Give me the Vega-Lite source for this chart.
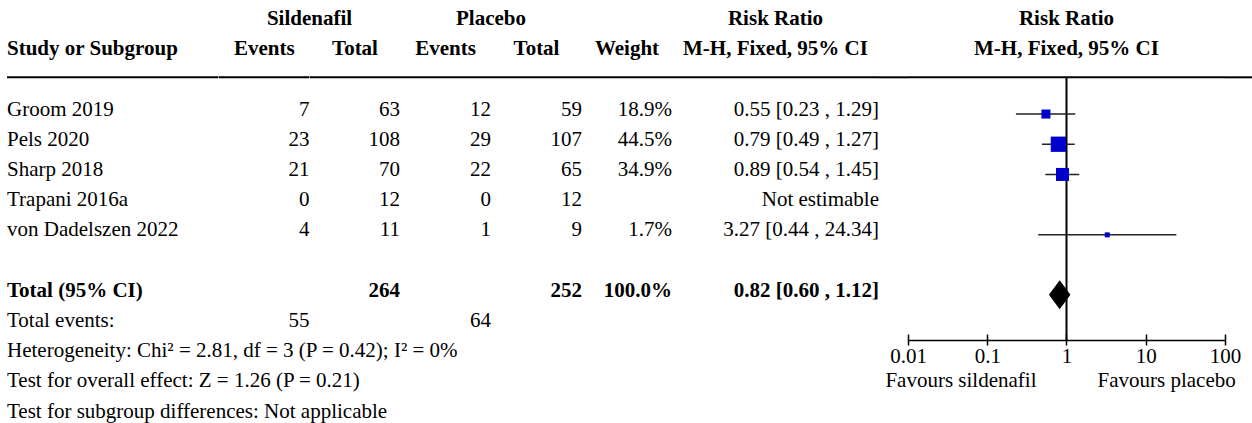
{
  "$schema": "https://vega.github.io/schema/vega-lite/v6.json",
  "padding": {"left": 6, "top": 0, "right": 0, "bottom": 0},
  "spacing": 0,
  "bounds": "flush",
  "datasets": {
    "studies": [
      {"study": "Groom 2019", "se": 7, "st": 63, "pe": 12, "pt": 59, "weight": 0.189, "rr": 0.55, "lo": 0.23, "hi": 1.29, "ci": "0.55 [0.23 , 1.29]"},
      {"study": "Pels 2020", "se": 23, "st": 108, "pe": 29, "pt": 107, "weight": 0.445, "rr": 0.79, "lo": 0.49, "hi": 1.27, "ci": "0.79 [0.49 , 1.27]"},
      {"study": "Sharp 2018", "se": 21, "st": 70, "pe": 22, "pt": 65, "weight": 0.349, "rr": 0.89, "lo": 0.54, "hi": 1.45, "ci": "0.89 [0.54 , 1.45]"},
      {"study": "Trapani 2016a", "se": 0, "st": 12, "pe": 0, "pt": 12, "weight": null, "rr": null, "lo": null, "hi": null, "ci": "Not estimable"},
      {"study": "von Dadelszen 2022", "se": 4, "st": 11, "pe": 1, "pt": 9, "weight": 0.017, "rr": 3.27, "lo": 0.44, "hi": 24.34, "ci": "3.27 [0.44 , 24.34]"}
    ],
    "heads": [
      {"line": "hdr1", "col": "rr", "t": "Risk Ratio"},
      {"line": "hdr1", "col": "plot", "t": "Risk Ratio"},
      {"line": "hdr2", "col": "se", "t": "Events"},
      {"line": "hdr2", "col": "st", "t": "Total"},
      {"line": "hdr2", "col": "pe", "t": "Events"},
      {"line": "hdr2", "col": "pt", "t": "Total"},
      {"line": "hdr2", "col": "w", "t": "Weight"},
      {"line": "hdr2", "col": "rr", "t": "M-H, Fixed, 95% CI"},
      {"line": "hdr2", "col": "plot", "t": "M-H, Fixed, 95% CI"}
    ],
    "groups": [
      {"line": "hdr1", "col": "se", "t": "Sildenafil"},
      {"line": "hdr1", "col": "pe", "t": "Placebo"}
    ],
    "sums": [
      {"line": "hdr2", "col": "study", "t": "Study or Subgroup", "bold": true},
      {"line": "Total (95% CI)", "col": "study", "t": "Total (95% CI)", "bold": true},
      {"line": "Total (95% CI)", "col": "st", "t": "264", "bold": true},
      {"line": "Total (95% CI)", "col": "pt", "t": "252", "bold": true},
      {"line": "Total (95% CI)", "col": "w", "t": "100.0%", "bold": true},
      {"line": "Total (95% CI)", "col": "rr", "t": "0.82 [0.60 , 1.12]", "bold": true},
      {"line": "Total events:", "col": "study", "t": "Total events:", "bold": false},
      {"line": "Total events:", "col": "se", "t": "55", "bold": false},
      {"line": "Total events:", "col": "pe", "t": "64", "bold": false},
      {"line": "Heterogeneity", "col": "study", "t": "Heterogeneity: Chi² = 2.81, df = 3 (P = 0.42); I² = 0%", "bold": false},
      {"line": "Overall effect", "col": "study", "t": "Test for overall effect: Z = 1.26 (P = 0.21)", "bold": false},
      {"line": "Subgroup differences", "col": "study", "t": "Test for subgroup differences: Not applicable", "bold": false}
    ],
    "pooled": [
      {"line": "Total (95% CI)", "rr": 0.82, "lo": 0.60, "hi": 1.12}
    ],
    "separator": [
      {"line": "sep", "to": "Total events:", "null_effect": 1}
    ],
    "favours": [
      {"side": "left", "t": "Favours sildenafil"},
      {"side": "right", "t": "Favours placebo"}
    ]
  },
  "hconcat": [
    {
      "width": 211.5, "height": 423,
      "layer": [
        {"data": {"name": "separator"}, "mark": {"type": "rule", "strokeWidth": 2, "color": "black", "yOffset": -2}, "encoding": {"y": {"field": "line", "type": "nominal", "axis": null, "scale": {"type": "point", "domain": ["hdr1","hdr2","sep","Groom 2019","Pels 2020","Sharp 2018","Trapani 2016a","von Dadelszen 2022","gap","Total (95% CI)","Total events:","Heterogeneity","Overall effect","Subgroup differences"], "padding": 0.501, "align": 0.6244, "round": false}}}},
        {"data": {"name": "studies"}, "mark": {"type": "text", "align": "left"},
         "encoding": {"x": {"datum": 0, "type": "quantitative", "scale": {"domain": [0, 1]}, "axis": null},
           "y": {"field": "study", "type": "nominal", "axis": null, "scale": {"type": "point", "domain": ["hdr1","hdr2","sep","Groom 2019","Pels 2020","Sharp 2018","Trapani 2016a","von Dadelszen 2022","gap","Total (95% CI)","Total events:","Heterogeneity","Overall effect","Subgroup differences"], "padding": 0.501, "align": 0.6244, "round": false}},
           "text": {"field": "study", "type": "nominal"}}},
        {"data": {"name": "sums"}, "transform": [{"filter": "datum.col == 'study' && !datum.bold"}], "mark": {"type": "text", "align": "left"},
         "encoding": {"x": {"datum": 0, "type": "quantitative", "scale": {"domain": [0, 1]}, "axis": null},
           "y": {"field": "line", "type": "nominal", "axis": null, "scale": {"type": "point", "domain": ["hdr1","hdr2","sep","Groom 2019","Pels 2020","Sharp 2018","Trapani 2016a","von Dadelszen 2022","gap","Total (95% CI)","Total events:","Heterogeneity","Overall effect","Subgroup differences"], "padding": 0.501, "align": 0.6244, "round": false}},
           "text": {"field": "t", "type": "nominal"}}},
        {"data": {"name": "sums"}, "transform": [{"filter": "datum.col == 'study' && datum.bold"}], "mark": {"type": "text", "align": "left", "fontWeight": "bold"},
         "encoding": {"x": {"datum": 0, "type": "quantitative", "scale": {"domain": [0, 1]}, "axis": null},
           "y": {"field": "line", "type": "nominal", "axis": null, "scale": {"type": "point", "domain": ["hdr1","hdr2","sep","Groom 2019","Pels 2020","Sharp 2018","Trapani 2016a","von Dadelszen 2022","gap","Total (95% CI)","Total events:","Heterogeneity","Overall effect","Subgroup differences"], "padding": 0.501, "align": 0.6244, "round": false}},
           "text": {"field": "t", "type": "nominal"}}}
      ]
    },
    {
      "width": 90.5, "height": 423,
      "layer": [
        {"data": {"name": "separator"}, "mark": {"type": "rule", "strokeWidth": 2, "color": "black", "yOffset": -2}, "encoding": {"y": {"field": "line", "type": "nominal", "axis": null, "scale": {"type": "point", "domain": ["hdr1","hdr2","sep","Groom 2019","Pels 2020","Sharp 2018","Trapani 2016a","von Dadelszen 2022","gap","Total (95% CI)","Total events:","Heterogeneity","Overall effect","Subgroup differences"], "padding": 0.501, "align": 0.6244, "round": false}}}},
        {"data": {"name": "groups"}, "transform": [{"filter": "datum.col == 'se'"}], "mark": {"type": "text", "align": "center", "fontWeight": "bold"},
         "encoding": {"x": {"datum": 1, "type": "quantitative", "scale": {"domain": [0, 1]}, "axis": null},
           "y": {"field": "line", "type": "nominal", "axis": null, "scale": {"type": "point", "domain": ["hdr1","hdr2","sep","Groom 2019","Pels 2020","Sharp 2018","Trapani 2016a","von Dadelszen 2022","gap","Total (95% CI)","Total events:","Heterogeneity","Overall effect","Subgroup differences"], "padding": 0.501, "align": 0.6244, "round": false}},
           "text": {"field": "t", "type": "nominal"}}},
        {"data": {"name": "heads"}, "transform": [{"filter": "datum.col == 'se'"}], "mark": {"type": "text", "align": "center", "fontWeight": "bold"},
         "encoding": {"x": {"datum": 0.5, "type": "quantitative", "scale": {"domain": [0, 1]}, "axis": null},
           "y": {"field": "line", "type": "nominal", "axis": null, "scale": {"type": "point", "domain": ["hdr1","hdr2","sep","Groom 2019","Pels 2020","Sharp 2018","Trapani 2016a","von Dadelszen 2022","gap","Total (95% CI)","Total events:","Heterogeneity","Overall effect","Subgroup differences"], "padding": 0.501, "align": 0.6244, "round": false}},
           "text": {"field": "t", "type": "nominal"}}},
        {"data": {"name": "studies"}, "mark": {"type": "text", "align": "right"},
         "encoding": {"x": {"datum": 1, "type": "quantitative", "scale": {"domain": [0, 1]}, "axis": null},
           "y": {"field": "study", "type": "nominal", "axis": null, "scale": {"type": "point", "domain": ["hdr1","hdr2","sep","Groom 2019","Pels 2020","Sharp 2018","Trapani 2016a","von Dadelszen 2022","gap","Total (95% CI)","Total events:","Heterogeneity","Overall effect","Subgroup differences"], "padding": 0.501, "align": 0.6244, "round": false}},
           "text": {"field": "se", "type": "nominal"}}},
        {"data": {"name": "sums"}, "transform": [{"filter": "datum.col == 'se'"}], "mark": {"type": "text", "align": "right"},
         "encoding": {"x": {"datum": 1, "type": "quantitative", "scale": {"domain": [0, 1]}, "axis": null},
           "y": {"field": "line", "type": "nominal", "axis": null, "scale": {"type": "point", "domain": ["hdr1","hdr2","sep","Groom 2019","Pels 2020","Sharp 2018","Trapani 2016a","von Dadelszen 2022","gap","Total (95% CI)","Total events:","Heterogeneity","Overall effect","Subgroup differences"], "padding": 0.501, "align": 0.6244, "round": false}},
           "text": {"field": "t", "type": "nominal"}}}
      ]
    },
    {
      "width": 90, "height": 423,
      "layer": [
        {"data": {"name": "separator"}, "mark": {"type": "rule", "strokeWidth": 2, "color": "black", "yOffset": -2}, "encoding": {"y": {"field": "line", "type": "nominal", "axis": null, "scale": {"type": "point", "domain": ["hdr1","hdr2","sep","Groom 2019","Pels 2020","Sharp 2018","Trapani 2016a","von Dadelszen 2022","gap","Total (95% CI)","Total events:","Heterogeneity","Overall effect","Subgroup differences"], "padding": 0.501, "align": 0.6244, "round": false}}}},
        {"data": {"name": "heads"}, "transform": [{"filter": "datum.col == 'st'"}], "mark": {"type": "text", "align": "center", "fontWeight": "bold"},
         "encoding": {"x": {"datum": 0.5, "type": "quantitative", "scale": {"domain": [0, 1]}, "axis": null},
           "y": {"field": "line", "type": "nominal", "axis": null, "scale": {"type": "point", "domain": ["hdr1","hdr2","sep","Groom 2019","Pels 2020","Sharp 2018","Trapani 2016a","von Dadelszen 2022","gap","Total (95% CI)","Total events:","Heterogeneity","Overall effect","Subgroup differences"], "padding": 0.501, "align": 0.6244, "round": false}},
           "text": {"field": "t", "type": "nominal"}}},
        {"data": {"name": "studies"}, "mark": {"type": "text", "align": "right"},
         "encoding": {"x": {"datum": 1, "type": "quantitative", "scale": {"domain": [0, 1]}, "axis": null},
           "y": {"field": "study", "type": "nominal", "axis": null, "scale": {"type": "point", "domain": ["hdr1","hdr2","sep","Groom 2019","Pels 2020","Sharp 2018","Trapani 2016a","von Dadelszen 2022","gap","Total (95% CI)","Total events:","Heterogeneity","Overall effect","Subgroup differences"], "padding": 0.501, "align": 0.6244, "round": false}},
           "text": {"field": "st", "type": "nominal"}}},
        {"data": {"name": "sums"}, "transform": [{"filter": "datum.col == 'st'"}], "mark": {"type": "text", "align": "right", "fontWeight": "bold"},
         "encoding": {"x": {"datum": 1, "type": "quantitative", "scale": {"domain": [0, 1]}, "axis": null},
           "y": {"field": "line", "type": "nominal", "axis": null, "scale": {"type": "point", "domain": ["hdr1","hdr2","sep","Groom 2019","Pels 2020","Sharp 2018","Trapani 2016a","von Dadelszen 2022","gap","Total (95% CI)","Total events:","Heterogeneity","Overall effect","Subgroup differences"], "padding": 0.501, "align": 0.6244, "round": false}},
           "text": {"field": "t", "type": "nominal"}}}
      ]
    },
    {
      "width": 91, "height": 423,
      "layer": [
        {"data": {"name": "separator"}, "mark": {"type": "rule", "strokeWidth": 2, "color": "black", "yOffset": -2}, "encoding": {"y": {"field": "line", "type": "nominal", "axis": null, "scale": {"type": "point", "domain": ["hdr1","hdr2","sep","Groom 2019","Pels 2020","Sharp 2018","Trapani 2016a","von Dadelszen 2022","gap","Total (95% CI)","Total events:","Heterogeneity","Overall effect","Subgroup differences"], "padding": 0.501, "align": 0.6244, "round": false}}}},
        {"data": {"name": "groups"}, "transform": [{"filter": "datum.col == 'pe'"}], "mark": {"type": "text", "align": "center", "fontWeight": "bold"},
         "encoding": {"x": {"datum": 1, "type": "quantitative", "scale": {"domain": [0, 1]}, "axis": null},
           "y": {"field": "line", "type": "nominal", "axis": null, "scale": {"type": "point", "domain": ["hdr1","hdr2","sep","Groom 2019","Pels 2020","Sharp 2018","Trapani 2016a","von Dadelszen 2022","gap","Total (95% CI)","Total events:","Heterogeneity","Overall effect","Subgroup differences"], "padding": 0.501, "align": 0.6244, "round": false}},
           "text": {"field": "t", "type": "nominal"}}},
        {"data": {"name": "heads"}, "transform": [{"filter": "datum.col == 'pe'"}], "mark": {"type": "text", "align": "center", "fontWeight": "bold"},
         "encoding": {"x": {"datum": 0.5, "type": "quantitative", "scale": {"domain": [0, 1]}, "axis": null},
           "y": {"field": "line", "type": "nominal", "axis": null, "scale": {"type": "point", "domain": ["hdr1","hdr2","sep","Groom 2019","Pels 2020","Sharp 2018","Trapani 2016a","von Dadelszen 2022","gap","Total (95% CI)","Total events:","Heterogeneity","Overall effect","Subgroup differences"], "padding": 0.501, "align": 0.6244, "round": false}},
           "text": {"field": "t", "type": "nominal"}}},
        {"data": {"name": "studies"}, "mark": {"type": "text", "align": "right"},
         "encoding": {"x": {"datum": 1, "type": "quantitative", "scale": {"domain": [0, 1]}, "axis": null},
           "y": {"field": "study", "type": "nominal", "axis": null, "scale": {"type": "point", "domain": ["hdr1","hdr2","sep","Groom 2019","Pels 2020","Sharp 2018","Trapani 2016a","von Dadelszen 2022","gap","Total (95% CI)","Total events:","Heterogeneity","Overall effect","Subgroup differences"], "padding": 0.501, "align": 0.6244, "round": false}},
           "text": {"field": "pe", "type": "nominal"}}},
        {"data": {"name": "sums"}, "transform": [{"filter": "datum.col == 'pe'"}], "mark": {"type": "text", "align": "right"},
         "encoding": {"x": {"datum": 1, "type": "quantitative", "scale": {"domain": [0, 1]}, "axis": null},
           "y": {"field": "line", "type": "nominal", "axis": null, "scale": {"type": "point", "domain": ["hdr1","hdr2","sep","Groom 2019","Pels 2020","Sharp 2018","Trapani 2016a","von Dadelszen 2022","gap","Total (95% CI)","Total events:","Heterogeneity","Overall effect","Subgroup differences"], "padding": 0.501, "align": 0.6244, "round": false}},
           "text": {"field": "t", "type": "nominal"}}}
      ]
    },
    {
      "width": 91, "height": 423,
      "layer": [
        {"data": {"name": "separator"}, "mark": {"type": "rule", "strokeWidth": 2, "color": "black", "yOffset": -2}, "encoding": {"y": {"field": "line", "type": "nominal", "axis": null, "scale": {"type": "point", "domain": ["hdr1","hdr2","sep","Groom 2019","Pels 2020","Sharp 2018","Trapani 2016a","von Dadelszen 2022","gap","Total (95% CI)","Total events:","Heterogeneity","Overall effect","Subgroup differences"], "padding": 0.501, "align": 0.6244, "round": false}}}},
        {"data": {"name": "heads"}, "transform": [{"filter": "datum.col == 'pt'"}], "mark": {"type": "text", "align": "center", "fontWeight": "bold"},
         "encoding": {"x": {"datum": 0.5, "type": "quantitative", "scale": {"domain": [0, 1]}, "axis": null},
           "y": {"field": "line", "type": "nominal", "axis": null, "scale": {"type": "point", "domain": ["hdr1","hdr2","sep","Groom 2019","Pels 2020","Sharp 2018","Trapani 2016a","von Dadelszen 2022","gap","Total (95% CI)","Total events:","Heterogeneity","Overall effect","Subgroup differences"], "padding": 0.501, "align": 0.6244, "round": false}},
           "text": {"field": "t", "type": "nominal"}}},
        {"data": {"name": "studies"}, "mark": {"type": "text", "align": "right"},
         "encoding": {"x": {"datum": 1, "type": "quantitative", "scale": {"domain": [0, 1]}, "axis": null},
           "y": {"field": "study", "type": "nominal", "axis": null, "scale": {"type": "point", "domain": ["hdr1","hdr2","sep","Groom 2019","Pels 2020","Sharp 2018","Trapani 2016a","von Dadelszen 2022","gap","Total (95% CI)","Total events:","Heterogeneity","Overall effect","Subgroup differences"], "padding": 0.501, "align": 0.6244, "round": false}},
           "text": {"field": "pt", "type": "nominal"}}},
        {"data": {"name": "sums"}, "transform": [{"filter": "datum.col == 'pt'"}], "mark": {"type": "text", "align": "right", "fontWeight": "bold"},
         "encoding": {"x": {"datum": 1, "type": "quantitative", "scale": {"domain": [0, 1]}, "axis": null},
           "y": {"field": "line", "type": "nominal", "axis": null, "scale": {"type": "point", "domain": ["hdr1","hdr2","sep","Groom 2019","Pels 2020","Sharp 2018","Trapani 2016a","von Dadelszen 2022","gap","Total (95% CI)","Total events:","Heterogeneity","Overall effect","Subgroup differences"], "padding": 0.501, "align": 0.6244, "round": false}},
           "text": {"field": "t", "type": "nominal"}}}
      ]
    },
    {
      "width": 90, "height": 423,
      "layer": [
        {"data": {"name": "separator"}, "mark": {"type": "rule", "strokeWidth": 2, "color": "black", "yOffset": -2}, "encoding": {"y": {"field": "line", "type": "nominal", "axis": null, "scale": {"type": "point", "domain": ["hdr1","hdr2","sep","Groom 2019","Pels 2020","Sharp 2018","Trapani 2016a","von Dadelszen 2022","gap","Total (95% CI)","Total events:","Heterogeneity","Overall effect","Subgroup differences"], "padding": 0.501, "align": 0.6244, "round": false}}}},
        {"data": {"name": "heads"}, "transform": [{"filter": "datum.col == 'w'"}], "mark": {"type": "text", "align": "center", "fontWeight": "bold"},
         "encoding": {"x": {"datum": 0.5, "type": "quantitative", "scale": {"domain": [0, 1]}, "axis": null},
           "y": {"field": "line", "type": "nominal", "axis": null, "scale": {"type": "point", "domain": ["hdr1","hdr2","sep","Groom 2019","Pels 2020","Sharp 2018","Trapani 2016a","von Dadelszen 2022","gap","Total (95% CI)","Total events:","Heterogeneity","Overall effect","Subgroup differences"], "padding": 0.501, "align": 0.6244, "round": false}},
           "text": {"field": "t", "type": "nominal"}}},
        {"data": {"name": "studies"}, "transform": [{"filter": "datum.weight != null"}], "mark": {"type": "text", "align": "right"},
         "encoding": {"x": {"datum": 1, "type": "quantitative", "scale": {"domain": [0, 1]}, "axis": null},
           "y": {"field": "study", "type": "nominal", "axis": null, "scale": {"type": "point", "domain": ["hdr1","hdr2","sep","Groom 2019","Pels 2020","Sharp 2018","Trapani 2016a","von Dadelszen 2022","gap","Total (95% CI)","Total events:","Heterogeneity","Overall effect","Subgroup differences"], "padding": 0.501, "align": 0.6244, "round": false}},
           "text": {"field": "weight", "type": "quantitative", "format": ".1%"}}},
        {"data": {"name": "sums"}, "transform": [{"filter": "datum.col == 'w'"}], "mark": {"type": "text", "align": "right", "fontWeight": "bold"},
         "encoding": {"x": {"datum": 1, "type": "quantitative", "scale": {"domain": [0, 1]}, "axis": null},
           "y": {"field": "line", "type": "nominal", "axis": null, "scale": {"type": "point", "domain": ["hdr1","hdr2","sep","Groom 2019","Pels 2020","Sharp 2018","Trapani 2016a","von Dadelszen 2022","gap","Total (95% CI)","Total events:","Heterogeneity","Overall effect","Subgroup differences"], "padding": 0.501, "align": 0.6244, "round": false}},
           "text": {"field": "t", "type": "nominal"}}}
      ]
    },
    {
      "width": 207, "height": 423,
      "layer": [
        {"data": {"name": "separator"}, "mark": {"type": "rule", "strokeWidth": 2, "color": "black", "yOffset": -2}, "encoding": {"y": {"field": "line", "type": "nominal", "axis": null, "scale": {"type": "point", "domain": ["hdr1","hdr2","sep","Groom 2019","Pels 2020","Sharp 2018","Trapani 2016a","von Dadelszen 2022","gap","Total (95% CI)","Total events:","Heterogeneity","Overall effect","Subgroup differences"], "padding": 0.501, "align": 0.6244, "round": false}}}},
        {"data": {"name": "heads"}, "transform": [{"filter": "datum.col == 'rr'"}], "mark": {"type": "text", "align": "center", "fontWeight": "bold"},
         "encoding": {"x": {"datum": 0.5, "type": "quantitative", "scale": {"domain": [0, 1]}, "axis": null},
           "y": {"field": "line", "type": "nominal", "axis": null, "scale": {"type": "point", "domain": ["hdr1","hdr2","sep","Groom 2019","Pels 2020","Sharp 2018","Trapani 2016a","von Dadelszen 2022","gap","Total (95% CI)","Total events:","Heterogeneity","Overall effect","Subgroup differences"], "padding": 0.501, "align": 0.6244, "round": false}},
           "text": {"field": "t", "type": "nominal"}}},
        {"data": {"name": "studies"}, "mark": {"type": "text", "align": "right"},
         "encoding": {"x": {"datum": 1, "type": "quantitative", "scale": {"domain": [0, 1]}, "axis": null},
           "y": {"field": "study", "type": "nominal", "axis": null, "scale": {"type": "point", "domain": ["hdr1","hdr2","sep","Groom 2019","Pels 2020","Sharp 2018","Trapani 2016a","von Dadelszen 2022","gap","Total (95% CI)","Total events:","Heterogeneity","Overall effect","Subgroup differences"], "padding": 0.501, "align": 0.6244, "round": false}},
           "text": {"field": "ci", "type": "nominal"}}},
        {"data": {"name": "sums"}, "transform": [{"filter": "datum.col == 'rr'"}], "mark": {"type": "text", "align": "right", "fontWeight": "bold"},
         "encoding": {"x": {"datum": 1, "type": "quantitative", "scale": {"domain": [0, 1]}, "axis": null},
           "y": {"field": "line", "type": "nominal", "axis": null, "scale": {"type": "point", "domain": ["hdr1","hdr2","sep","Groom 2019","Pels 2020","Sharp 2018","Trapani 2016a","von Dadelszen 2022","gap","Total (95% CI)","Total events:","Heterogeneity","Overall effect","Subgroup differences"], "padding": 0.501, "align": 0.6244, "round": false}},
           "text": {"field": "t", "type": "nominal"}}}
      ]
    },
    {
      "width": 29, "height": 423,
      "data": {"name": "separator"},
      "mark": {"type": "rule", "strokeWidth": 2, "color": "black", "yOffset": -2},
      "encoding": {"y": {"field": "line", "type": "nominal", "axis": null, "scale": {"type": "point", "domain": ["hdr1","hdr2","sep","Groom 2019","Pels 2020","Sharp 2018","Trapani 2016a","von Dadelszen 2022","gap","Total (95% CI)","Total events:","Heterogeneity","Overall effect","Subgroup differences"], "padding": 0.501, "align": 0.6244, "round": false}}}
    },
    {
      "width": 317, "height": 423,
      "resolve": {"axis": {"x": "independent"}},
      "layer": [
        {"data": {"name": "separator"}, "mark": {"type": "rule", "strokeWidth": 2, "color": "black", "yOffset": -2}, "encoding": {"y": {"field": "line", "type": "nominal", "axis": null, "scale": {"type": "point", "domain": ["hdr1","hdr2","sep","Groom 2019","Pels 2020","Sharp 2018","Trapani 2016a","von Dadelszen 2022","gap","Total (95% CI)","Total events:","Heterogeneity","Overall effect","Subgroup differences"], "padding": 0.501, "align": 0.6244, "round": false}}}},
        {"data": {"name": "heads"}, "transform": [{"filter": "datum.col == 'plot'"}], "mark": {"type": "text", "align": "center", "fontWeight": "bold"},
         "encoding": {"x": {"datum": 1, "type": "quantitative", "scale": {"type": "log", "domain": [0.01, 100], "nice": false}, "axis": null},
           "y": {"field": "line", "type": "nominal", "axis": null, "scale": {"type": "point", "domain": ["hdr1","hdr2","sep","Groom 2019","Pels 2020","Sharp 2018","Trapani 2016a","von Dadelszen 2022","gap","Total (95% CI)","Total events:","Heterogeneity","Overall effect","Subgroup differences"], "padding": 0.501, "align": 0.6244, "round": false}},
           "text": {"field": "t", "type": "nominal"}}},
        {"data": {"name": "separator"}, "mark": {"type": "rule", "strokeWidth": 2, "color": "black", "yOffset": -2, "y2Offset": 19},
         "encoding": {"x": {"field": "null_effect", "type": "quantitative", "scale": {"type": "log", "domain": [0.01, 100], "nice": false},
             "axis": {"orient": "bottom", "offset": -83, "values": [0.01, 0.1, 1, 10, 100], "format": "~g", "labelFlush": false, "labelOverlap": false, "labelBound": false, "tickSize": 5, "tickWidth": 1.5, "tickColor": "black", "domainColor": "black", "domainWidth": 1.5, "labelFont": "Liberation Serif", "labelFontSize": 21, "labelColor": "black", "labelPadding": 0, "title": null, "grid": false}},
           "y": {"field": "line", "type": "nominal", "axis": null, "scale": {"type": "point", "domain": ["hdr1","hdr2","sep","Groom 2019","Pels 2020","Sharp 2018","Trapani 2016a","von Dadelszen 2022","gap","Total (95% CI)","Total events:","Heterogeneity","Overall effect","Subgroup differences"], "padding": 0.501, "align": 0.6244, "round": false}},
           "y2": {"field": "to"}}},
        {"data": {"name": "studies"}, "transform": [{"filter": "datum.rr != null"}], "mark": {"type": "rule", "strokeWidth": 1.5, "color": "#222222", "yOffset": 4.5},
         "encoding": {"x": {"field": "lo", "type": "quantitative", "scale": {"type": "log", "domain": [0.01, 100], "nice": false},
             "axis": {"orient": "bottom", "offset": -83, "values": [0.01, 0.1, 1, 10, 100], "tickSize": -6, "tickWidth": 1.5, "tickColor": "black", "labels": false, "domain": false, "title": null, "grid": false}},
           "x2": {"field": "hi"},
           "y": {"field": "study", "type": "nominal", "axis": null, "scale": {"type": "point", "domain": ["hdr1","hdr2","sep","Groom 2019","Pels 2020","Sharp 2018","Trapani 2016a","von Dadelszen 2022","gap","Total (95% CI)","Total events:","Heterogeneity","Overall effect","Subgroup differences"], "padding": 0.501, "align": 0.6244, "round": false}}}},
        {"data": {"name": "studies"}, "transform": [{"filter": "datum.rr != null"}], "mark": {"type": "point", "shape": "square", "filled": true, "color": "#0000cc", "opacity": 1, "strokeWidth": 0, "yOffset": 4.5},
         "encoding": {"x": {"field": "rr", "type": "quantitative", "scale": {"type": "log", "domain": [0.01, 100], "nice": false}, "axis": null},
           "y": {"field": "study", "type": "nominal", "axis": null, "scale": {"type": "point", "domain": ["hdr1","hdr2","sep","Groom 2019","Pels 2020","Sharp 2018","Trapani 2016a","von Dadelszen 2022","gap","Total (95% CI)","Total events:","Heterogeneity","Overall effect","Subgroup differences"], "padding": 0.501, "align": 0.6244, "round": false}},
           "size": {"field": "weight", "type": "quantitative", "scale": {"type": "pow", "exponent": 1.5, "domain": [0.017, 0.445], "range": [25, 234], "zero": false}, "legend": null}}},
        {"data": {"name": "pooled"}, "mark": {"type": "point", "shape": "M-0.741,0L0,-1L0.741,0L0,1Z", "filled": true, "color": "black", "opacity": 1, "strokeWidth": 0, "size": 841, "yOffset": 4},
         "encoding": {"x": {"field": "rr", "type": "quantitative", "scale": {"type": "log", "domain": [0.01, 100], "nice": false}, "axis": null},
           "y": {"field": "line", "type": "nominal", "axis": null, "scale": {"type": "point", "domain": ["hdr1","hdr2","sep","Groom 2019","Pels 2020","Sharp 2018","Trapani 2016a","von Dadelszen 2022","gap","Total (95% CI)","Total events:","Heterogeneity","Overall effect","Subgroup differences"], "padding": 0.501, "align": 0.6244, "round": false}}}},
        {"data": {"name": "favours"}, "transform": [{"filter": "datum.side == 'left'"}], "mark": {"type": "text", "align": "right", "dx": -30},
         "encoding": {"x": {"datum": 1, "type": "quantitative", "scale": {"type": "log", "domain": [0.01, 100], "nice": false}, "axis": null},
           "y": {"datum": "Overall effect", "type": "nominal", "axis": null, "scale": {"type": "point", "domain": ["hdr1","hdr2","sep","Groom 2019","Pels 2020","Sharp 2018","Trapani 2016a","von Dadelszen 2022","gap","Total (95% CI)","Total events:","Heterogeneity","Overall effect","Subgroup differences"], "padding": 0.501, "align": 0.6244, "round": false}},
           "text": {"field": "t", "type": "nominal"}}},
        {"data": {"name": "favours"}, "transform": [{"filter": "datum.side == 'right'"}], "mark": {"type": "text", "align": "left", "dx": 31},
         "encoding": {"x": {"datum": 1, "type": "quantitative", "scale": {"type": "log", "domain": [0.01, 100], "nice": false}, "axis": null},
           "y": {"datum": "Overall effect", "type": "nominal", "axis": null, "scale": {"type": "point", "domain": ["hdr1","hdr2","sep","Groom 2019","Pels 2020","Sharp 2018","Trapani 2016a","von Dadelszen 2022","gap","Total (95% CI)","Total events:","Heterogeneity","Overall effect","Subgroup differences"], "padding": 0.501, "align": 0.6244, "round": false}},
           "text": {"field": "t", "type": "nominal"}}}
      ]
    },
    {
      "width": 27, "height": 423,
      "data": {"name": "separator"},
      "mark": {"type": "rule", "strokeWidth": 2, "color": "black", "yOffset": -2},
      "encoding": {"y": {"field": "line", "type": "nominal", "axis": null, "scale": {"type": "point", "domain": ["hdr1","hdr2","sep","Groom 2019","Pels 2020","Sharp 2018","Trapani 2016a","von Dadelszen 2022","gap","Total (95% CI)","Total events:","Heterogeneity","Overall effect","Subgroup differences"], "padding": 0.501, "align": 0.6244, "round": false}}}
    }
  ],
  "config": {
    "view": {"stroke": null},
    "text": {"font": "Liberation Serif", "fontSize": 21, "color": "black", "baseline": "middle"},
    "axis": {"labelFont": "Liberation Serif"}
  }
}
